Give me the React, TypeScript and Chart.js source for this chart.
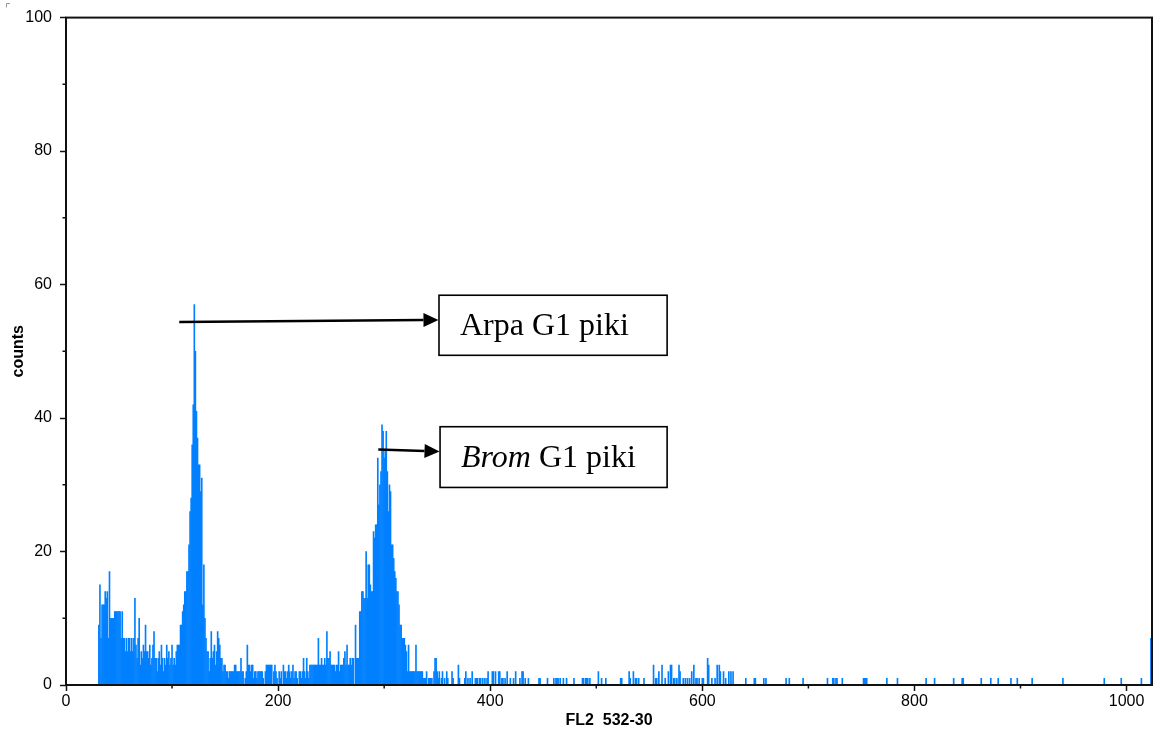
import React, { useEffect, useRef } from 'react';
import { Chart, registerables } from 'chart.js';

Chart.register(...registerables);

// ---------- data ----------
const channelCount = 1024;
const xTickValues = [0, 200, 400, 600, 800, 1000];
const xMinorTickValues = [100, 300, 500, 700, 900];
const yTickValues = [0, 20, 40, 60, 80, 100];
const yMinorTickValues = [10, 30, 50, 70, 90];

// channels 31..107 (debris region)
const lowStart = 31;
const lowCounts = [
  9, 15, 7, 12, 12, 12, 14, 13, 14, 7,
  17, 10, 10, 10, 10, 11, 11, 11, 11, 11,
  11, 7, 11, 7, 7, 5, 7, 5, 7, 7,
  5, 7, 5, 7, 13, 6, 4, 7, 10, 3,
  5, 4, 6, 5, 9, 5, 5, 4, 6, 3,
  4, 6, 8, 4, 4, 2, 4, 5, 3, 6,
  4, 2, 4, 3, 6, 4, 5, 3, 4, 6,
  3, 4, 3, 5, 6, 6, 6,
];

// channels 108..140 (Arpa G1 peak)
const peak1Start = 108;
const peak1Counts = [
  9, 9, 11,
  12, 14, 14, 17, 17, 21, 26, 28, 36, 42,
  57, 50, 41, 37, 33, 33, 29, 31, 12, 18,
  10, 7, 5, 5, 2, 4, 8, 4, 5, 6,
];

// channels 141..276 (valley)
const valleyStart = 141;
const valleyCounts = [
  3, 5, 8, 7, 6, 4, 4, 2, 3, 3,
  2, 2, 1, 2, 2, 2, 2, 2, 3, 3,
  2, 2, 2, 2, 4, 2, 2, 0, 1, 2,
  6, 3, 3, 2, 3, 3, 1, 2, 2, 1,
  2, 2, 2, 2, 2, 1, 0, 2, 3, 3,
  3, 3, 3, 3, 0, 2, 3, 2, 1, 0,
  2, 1, 2, 0, 3, 2, 2, 1, 2, 3,
  2, 1, 2, 3, 1, 2, 2, 1, 0, 2,
  2, 1, 2, 4, 2, 1, 4, 2, 1, 3,
  3, 3, 3, 3, 3, 3, 3, 7, 3, 3,
  4, 3, 3, 4, 3, 8, 4, 4, 5, 3,
  3, 3, 3, 2, 3, 3, 5, 2, 3, 3,
  3, 4, 5, 3, 6, 3, 3, 4, 3, 4,
  4, 0, 9, 4, 4, 4,
];

// channels 277..326 (Brom G1 peak)
const peak2Start = 277;
const peak2Counts = [
  11, 11, 14, 14,
  13, 13, 20, 13, 18, 18, 15, 14, 14, 23,
  22, 24, 24, 34, 27, 30, 32, 39, 38, 34,
  35, 38, 32, 26, 30, 29, 21, 21, 19, 17,
  16, 14, 14, 12, 9, 9, 7, 7, 7, 6,
  5, 2, 6, 2, 2, 2,
];

// sparse tail: [channel, count]
const tailBins: [number, number][] = [
  [327, 2], [328, 2], [329, 2], [330, 6], [331, 2], [332, 2], [333, 2], [334, 2], [335, 2], [336, 2],
  [337, 1], [338, 1], [339, 1], [340, 2], [342, 1], [343, 1], [344, 1], [345, 1], [347, 2], [348, 4],
  [349, 4], [350, 2], [351, 1], [352, 2], [354, 1], [355, 2], [357, 1], [359, 2], [360, 1], [364, 2],
  [365, 1], [370, 3], [371, 1], [376, 1], [377, 2], [379, 1], [381, 1], [383, 2], [386, 1], [387, 1],
  [388, 1], [390, 1], [391, 1], [393, 1], [395, 1], [397, 1], [398, 2], [402, 2], [403, 2], [405, 2],
  [408, 2], [409, 2], [411, 1], [412, 1], [414, 1], [416, 2], [419, 1], [422, 1], [424, 2], [428, 1],
  [430, 2], [431, 2], [433, 1], [436, 1], [446, 1], [447, 1], [454, 1], [460, 1], [462, 1], [463, 1],
  [464, 1], [466, 1], [469, 1], [472, 1], [479, 1], [487, 1], [488, 1], [490, 1], [491, 1], [492, 1],
  [494, 1], [502, 2], [505, 1], [509, 1], [523, 1], [524, 1], [531, 2], [532, 1], [535, 2], [537, 1],
  [538, 1], [540, 1], [545, 1], [554, 3], [556, 1], [557, 1], [559, 2], [562, 3], [565, 1], [568, 2],
  [570, 3], [571, 3], [573, 1], [574, 1], [576, 1], [578, 3], [579, 2], [582, 1], [584, 1], [586, 1],
  [588, 1], [590, 2], [592, 3], [594, 1], [595, 1], [597, 1], [600, 1], [601, 1], [605, 4], [606, 3],
  [609, 1], [612, 1], [614, 3], [616, 3], [617, 2], [620, 2], [622, 1], [625, 2], [627, 2], [629, 2],
  [641, 1], [649, 1], [650, 1], [658, 1], [660, 1], [679, 1], [682, 1], [695, 1], [718, 1], [723, 1],
  [724, 1], [726, 1], [727, 1], [732, 1], [752, 1], [753, 1], [754, 1], [755, 1], [774, 1], [784, 1],
  [811, 1], [819, 1], [837, 1], [845, 1], [846, 1], [863, 1], [872, 1], [879, 1], [891, 1], [897, 1],
  [911, 1], [940, 1], [979, 1], [995, 1], [1014, 1], [1023, 7],
];

const xAxisTitle = 'FL2  532-30';
const yAxisTitle = 'counts';

// annotation callouts (data coordinates)
const callouts = [
  {
    parts: [{ text: 'Arpa G1 piki', italic: false }],
    box: [351.7, 58.4, 566.8, 49.4],
    from: [106.8, 54.4],
    to: [351.2, 54.7],
  },
  {
    parts: [
      { text: 'Brom', italic: true },
      { text: ' G1 piki', italic: false },
    ],
    box: [352.7, 38.7, 566.8, 29.6],
    from: [294.5, 35.3],
    to: [352.2, 35.0],
  },
];

const SANS = '"Liberation Sans", Arial, sans-serif';
const SERIF = '"Liberation Serif", "Times New Roman", serif';

const overlayPlugin = {
  id: 'overlay',
  afterDraw(chart: any) {
    const { ctx, chartArea: a, scales } = chart;
    const xs = scales.x;
    const ys = scales.y;
    ctx.save();
    // frame
    ctx.strokeStyle = '#111';
    ctx.lineWidth = 2;
    ctx.strokeRect(a.left, a.top, a.right - a.left, a.bottom - a.top);
    // minor ticks
    ctx.lineWidth = 1.5;
    ctx.beginPath();
    for (const v of xMinorTickValues) {
      const px = xs.getPixelForValue(v);
      ctx.moveTo(px, a.bottom);
      ctx.lineTo(px, a.bottom + 3.5);
    }
    for (const v of yMinorTickValues) {
      const py = ys.getPixelForValue(v);
      ctx.moveTo(a.left, py);
      ctx.lineTo(a.left - 3.5, py);
    }
    ctx.stroke();
    // small corner mark
    ctx.strokeStyle = '#999';
    ctx.lineWidth = 1;
    ctx.beginPath();
    ctx.moveTo(6.5, 7.5);
    ctx.lineTo(6.5, 3.5);
    ctx.lineTo(10, 3.5);
    ctx.stroke();

    // callouts
    ctx.strokeStyle = '#000';
    ctx.fillStyle = '#000';
    for (const c of callouts) {
      const x0 = xs.getPixelForValue(c.box[0]);
      const y0 = ys.getPixelForValue(c.box[1]);
      const x1 = xs.getPixelForValue(c.box[2]);
      const y1 = ys.getPixelForValue(c.box[3]);
      ctx.fillStyle = '#fff';
      ctx.fillRect(x0, y0, x1 - x0, y1 - y0);
      ctx.fillStyle = '#000';
      ctx.lineWidth = 1.6;
      ctx.strokeRect(x0, y0, x1 - x0, y1 - y0);

      const fx = xs.getPixelForValue(c.from[0]);
      const fy = ys.getPixelForValue(c.from[1]);
      const tx = xs.getPixelForValue(c.to[0]);
      const ty = ys.getPixelForValue(c.to[1]);
      const ang = Math.atan2(ty - fy, tx - fx);
      const head = 15;
      const half = 7;
      const bx = tx - head * Math.cos(ang);
      const by = ty - head * Math.sin(ang);
      ctx.lineWidth = 2.5;
      ctx.beginPath();
      ctx.moveTo(fx, fy);
      ctx.lineTo(bx, by);
      ctx.stroke();
      ctx.beginPath();
      ctx.moveTo(tx, ty);
      ctx.lineTo(bx + half * Math.sin(ang), by - half * Math.cos(ang));
      ctx.lineTo(bx - half * Math.sin(ang), by + half * Math.cos(ang));
      ctx.closePath();
      ctx.fill();

      let textX = x0 + 21;
      const baseline = y0 + 40;
      ctx.textAlign = 'left';
      ctx.textBaseline = 'alphabetic';
      for (const p of c.parts) {
        ctx.font = `${p.italic ? 'italic ' : ''}32px ${SERIF}`;
        ctx.fillText(p.text, textX, baseline);
        textX += ctx.measureText(p.text).width;
      }
    }
    ctx.restore();
  },
};

export default function App() {
  const ref = useRef<HTMLCanvasElement>(null);

  useEffect(() => {
    const counts: number[] = new Array(channelCount).fill(0);
    const put = (start: number, arr: number[]) =>
      arr.forEach((c, i) => {
        counts[start + i] = c;
      });
    put(lowStart, lowCounts);
    put(peak1Start, peak1Counts);
    put(valleyStart, valleyCounts);
    put(peak2Start, peak2Counts);
    tailBins.forEach(([ch, c]) => {
      counts[ch] = c;
    });
    const points: { x: number; y: number }[] = [];
    counts.forEach((c, ch) => {
      if (c > 0) points.push({ x: ch, y: c });
    });

    const tickFont = { family: SANS, size: 16 };
    const titleFont = { family: SANS, size: 16, weight: 'bold' as const };

    const chart = new Chart(ref.current as HTMLCanvasElement, {
      type: 'bar',
      data: {
        datasets: [
          {
            data: points as any,
            backgroundColor: '#0080ff',
            borderWidth: 0,
            barPercentage: 1,
            categoryPercentage: 1,
            inflateAmount: 0.3,
          } as any,
        ],
      },
      options: {
        responsive: false,
        animation: false,
        events: [],
        layout: { padding: { left: 0, top: 14, right: 8, bottom: 0 } },
        plugins: {
          legend: { display: false },
          tooltip: { enabled: false },
        },
        scales: {
          x: {
            type: 'linear',
            min: 0,
            max: channelCount,
            offset: false,
            grid: {
              display: true,
              drawOnChartArea: false,
              drawTicks: true,
              tickLength: 6,
              tickColor: '#111',
              tickWidth: 1.5,
              offset: false,
            },
            border: { display: false },
            afterBuildTicks: (s: any) => {
              s.ticks = xTickValues.map((value) => ({ value }));
            },
            ticks: {
              autoSkip: false,
              maxRotation: 0,
              minRotation: 0,
              padding: 1,
              color: '#000',
              font: tickFont,
              callback: (v: any) => String(v),
            },
            title: {
              display: true,
              text: xAxisTitle,
              color: '#000',
              font: titleFont,
              padding: { top: 0, bottom: 6 },
            },
            afterFit: (s: any) => {
              s.height = 51;
            },
          } as any,
          y: {
            type: 'linear',
            min: 0,
            max: 100,
            grid: {
              display: true,
              drawOnChartArea: false,
              drawTicks: true,
              tickLength: 6,
              tickColor: '#111',
              tickWidth: 1.5,
            },
            border: { display: false },
            afterBuildTicks: (s: any) => {
              s.ticks = yTickValues.map((value) => ({ value }));
            },
            ticks: {
              padding: 8,
              color: '#000',
              font: tickFont,
              callback: (v: any) => String(v),
            },
            title: {
              display: true,
              text: yAxisTitle,
              color: '#000',
              font: titleFont,
              padding: { top: 9, bottom: 0 },
            },
            afterFit: (s: any) => {
              s.width = 66;
            },
          } as any,
        },
      },
      plugins: [overlayPlugin],
    });
    return () => chart.destroy();
  }, []);

  return (
    <div style={{ position: 'fixed', left: 0, top: 0, width: 1160, height: 736, background: '#fff' }}>
      <canvas ref={ref} width={1160} height={736} style={{ display: 'block', width: 1160, height: 736 }} />
    </div>
  );
}
